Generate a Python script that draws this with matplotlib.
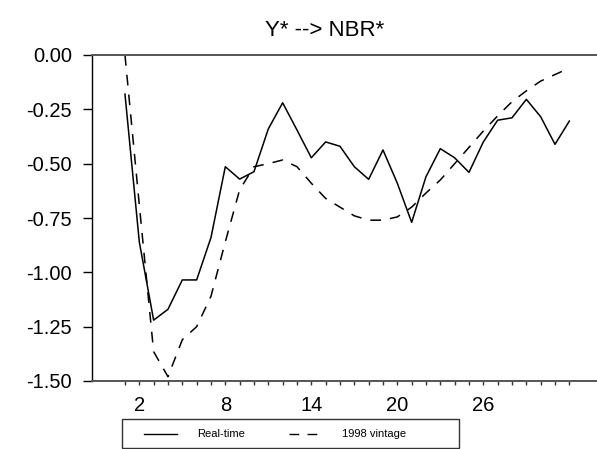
import matplotlib
matplotlib.use("Agg")
import matplotlib.pyplot as plt
from matplotlib.lines import Line2D
from matplotlib.patches import Rectangle

plt.rcParams['font.family'] = ['Liberation Sans', 'DejaVu Sans']

# horizons 1..32
horizons = list(range(1, 33))

realtime = [-0.18, -0.86, -1.22, -1.17, -1.035, -1.035, -0.84, -0.514,
            -0.571, -0.537, -0.34, -0.22, -0.345, -0.473, -0.40, -0.42,
            -0.514, -0.572, -0.437, -0.59, -0.77, -0.56, -0.431, -0.473,
            -0.54, -0.40, -0.30, -0.289, -0.204, -0.284, -0.411, -0.304]

vintage_1998 = [0.0, -0.69, -1.365, -1.48, -1.31, -1.25, -1.11, -0.86,
                -0.62, -0.514, -0.50, -0.483, -0.514, -0.59, -0.66, -0.70,
                -0.74, -0.76, -0.76, -0.745, -0.70, -0.635, -0.575, -0.50,
                -0.425, -0.35, -0.28, -0.215, -0.165, -0.12, -0.09, -0.06]

y_ticks = [0.0, -0.25, -0.5, -0.75, -1.0, -1.25, -1.5]
x_labels = [2, 8, 14, 20, 26]

W, H = 597, 449
fig = plt.figure(figsize=(W / 100, H / 100), dpi=100)
ax = fig.add_axes([92 / W, 68 / H, 506 / W, 326 / H])

ax.plot(horizons, realtime, color='black', lw=1.1)
ax.plot(horizons, vintage_1998, color='black', lw=1.1, dashes=(7, 6))

ax.set_xlim(-1.3, 34)
ax.set_ylim(-1.5, 0.0)

ax.set_yticks(y_ticks)
ax.set_yticklabels([f"{v:.2f}" for v in y_ticks])
ax.set_xticks(x_labels)
ax.set_xticklabels([str(v) for v in x_labels])
ax.set_xticks(horizons, minor=True)

ax.tick_params(axis='y', length=6.5, width=1, pad=8, labelsize=14.5, direction='out')
ax.tick_params(axis='x', which='both', length=3, width=1, pad=8, labelsize=14.5,
               direction='out', color='#333333')

ax.spines['right'].set_visible(False)
ax.spines['left'].set_linewidth(1.0)
for s in ('top', 'bottom'):
    ax.spines[s].set_linewidth(1.4)
    ax.spines[s].set_color('#555555')

fig.text(325 / W, 1 - 30 / H, "Y* --> NBR*", ha='center', va='center', fontsize=16)

# legend box below the chart
x0, y0, x1, y1 = 122, 419, 459, 448
fig.patches.append(Rectangle((x0 / W, 1 - y1 / H), (x1 - x0) / W, (y1 - y0) / H,
                             transform=fig.transFigure, fill=False,
                             edgecolor='#333333', lw=1.0))
ly = 1 - 434 / H
fig.lines.append(Line2D([144 / W, 177 / W], [ly, ly], transform=fig.transFigure,
                        color='black', lw=1.0))
fig.lines.append(Line2D([289 / W, 320 / W], [ly, ly], transform=fig.transFigure,
                        color='black', lw=1.0, dashes=(7, 6)))
fig.text(197 / W, ly, "Real-time", ha='left', va='center', fontsize=8)
fig.text(342 / W, ly, "1998 vintage", ha='left', va='center', fontsize=8)

fig.savefig("out.png", dpi=100)
plt.close(fig)
